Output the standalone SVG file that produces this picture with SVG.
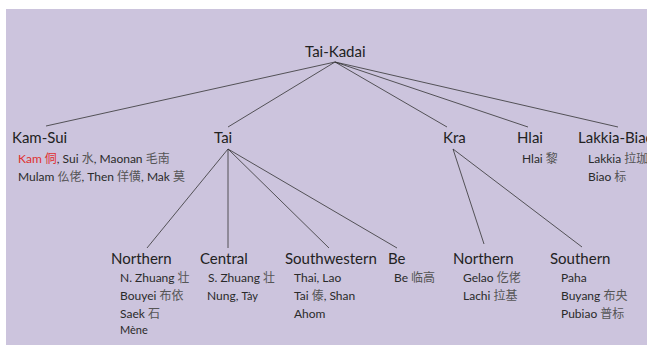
<svg xmlns="http://www.w3.org/2000/svg" width="647" height="347" viewBox="0 0 647 347">
<style>
  .h { font-family: Lato, "Noto Sans", "Noto Sans CJK SC", sans-serif; font-size: 15px; fill: #222; }
  .s { font-family: Lato, "Noto Sans", "Noto Sans CJK SC", sans-serif; font-size: 12px; fill: #2a2a2a; }
  .zh { fill: #555; }
  .sm { font-size: 11px; }
  .red { fill: #e03030; }
  .edge { stroke: #333; stroke-width: 0.8; fill: none; }
</style>
<rect width="647" height="347" fill="#ffffff"/>
<rect x="6" y="9" width="641" height="336" fill="#ccc4dd"/>
<g id="connectors">
  <line class="edge" x1="335" y1="62" x2="46" y2="126"/>
  <line class="edge" x1="335" y1="62" x2="228" y2="127"/>
  <line class="edge" x1="335" y1="62" x2="447" y2="127"/>
  <line class="edge" x1="335" y1="62" x2="528" y2="127"/>
  <line class="edge" x1="335" y1="62" x2="618" y2="127"/>
  <line class="edge" x1="228" y1="149" x2="147" y2="248"/>
  <line class="edge" x1="228" y1="149" x2="228" y2="248"/>
  <line class="edge" x1="228" y1="149" x2="329" y2="248"/>
  <line class="edge" x1="228" y1="149" x2="397" y2="248"/>
  <line class="edge" x1="453" y1="149" x2="484" y2="244"/>
  <line class="edge" x1="453" y1="149" x2="582" y2="247"/>
</g>
<g id="tai-kadai"><text class="h" x="305" y="57">Tai-Kadai</text></g>
<g id="kam-sui">
  <text class="h" x="12" y="143">Kam-Sui</text>
  <text class="s" x="18" y="163"><tspan class="red">Kam 侗</tspan>, Sui <tspan class="zh">水</tspan>, Maonan <tspan class="zh">毛南</tspan></text>
  <text class="s" x="18" y="181">Mulam <tspan class="zh">仫佬</tspan>, Then <tspan class="zh">佯僙</tspan>, Mak <tspan class="zh">莫</tspan></text>
</g>
<g id="tai"><text class="h" x="214" y="143">Tai</text></g>
<g id="kra"><text class="h" x="443" y="143">Kra</text></g>
<g id="hlai">
  <text class="h" x="517" y="143">Hlai</text>
  <text class="s" x="522" y="163">Hlai <tspan class="zh">黎</tspan></text>
</g>
<g id="lakkia-biao">
  <text class="h" x="578" y="143">Lakkia-Biao</text>
  <text class="s" x="588" y="163">Lakkia <tspan class="zh">拉珈</tspan></text>
  <text class="s" x="588" y="181">Biao <tspan class="zh">标</tspan></text>
</g>
<g id="tai-northern">
  <text class="h" x="111" y="264">Northern</text>
  <text class="s" x="120" y="282">N. Zhuang <tspan class="zh">壮</tspan></text>
  <text class="s" x="120" y="300">Bouyei <tspan class="zh">布依</tspan></text>
  <text class="s" x="120" y="318">Saek <tspan class="zh">石</tspan></text>
  <text class="s sm" x="120" y="334">Mène</text>
</g>
<g id="tai-central">
  <text class="h" x="200" y="264">Central</text>
  <text class="s" x="208" y="282">S. Zhuang <tspan class="zh">壮</tspan></text>
  <text class="s" x="207" y="300">Nung, <tspan class="sm">Tày</tspan></text>
</g>
<g id="tai-southwestern">
  <text class="h" x="285" y="264">Southwestern</text>
  <text class="s" x="294" y="282">Thai, Lao</text>
  <text class="s" x="294" y="300">Tai <tspan class="zh">傣</tspan>, Shan</text>
  <text class="s" x="294" y="318">Ahom</text>
</g>
<g id="tai-be">
  <text class="h" x="388" y="264">Be</text>
  <text class="s" x="394" y="282">Be <tspan class="zh">临高</tspan></text>
</g>
<g id="kra-northern">
  <text class="h" x="453" y="264">Northern</text>
  <text class="s" x="463" y="282">Gelao <tspan class="zh">仡佬</tspan></text>
  <text class="s" x="463" y="300">Lachi <tspan class="zh">拉基</tspan></text>
</g>
<g id="kra-southern">
  <text class="h" x="550" y="264">Southern</text>
  <text class="s" x="561" y="282">Paha</text>
  <text class="s" x="561" y="300">Buyang <tspan class="zh">布央</tspan></text>
  <text class="s" x="561" y="318">Pubiao <tspan class="zh">普标</tspan></text>
</g>
</svg>
